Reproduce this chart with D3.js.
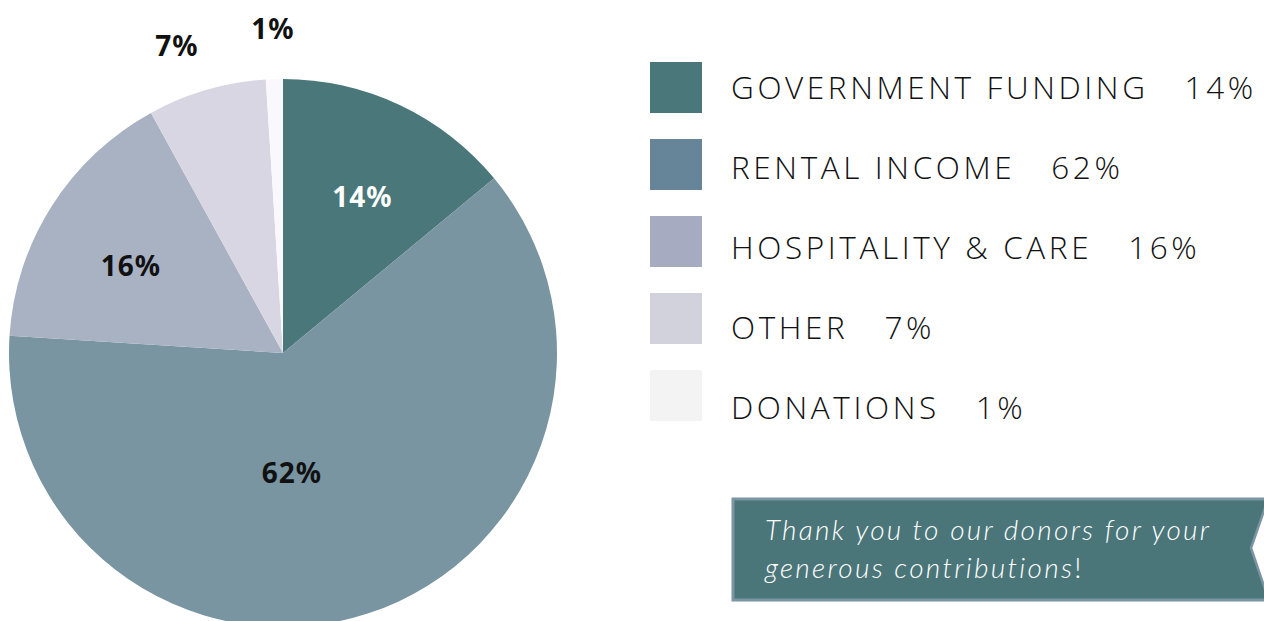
<!DOCTYPE html>
<html>
<head>
<meta charset="utf-8">
<script src="https://cdn.jsdelivr.net/npm/d3@7"></script>
<style>
  html, body { margin: 0; padding: 0; background: #fff; }
  svg { display: block; }
</style>
</head>
<body>
<svg id="chart" width="1264" height="621"></svg>
<script>
// data
const categories = ["GOVERNMENT FUNDING", "RENTAL INCOME", "HOSPITALITY & CARE", "OTHER", "DONATIONS"];
const shares = [14, 62, 16, 7, 1];
const pieColors = ["#4a7779", "#7895a1", "#a9b2c3", "#d8d6e3", "#fbf8fd"];
const legendColors = ["#4a7779", "#668599", "#a6abc2", "#d2d2dc", "#f3f3f3"];
const labelColors = ["#ffffff", "#111111", "#111111", "#111111", "#111111"];
const bannerLines = ["Thank you to our donors for your", "generous contributions"];

const svg = d3.select("#chart");
const cx = 283, cy = 353, radius = 274;

const data = categories.map((c, i) => ({ name: c, value: shares[i], i }));

const pie = d3.pie().sort(null).value(d => d.value);
const arcs = pie(data);
const arc = d3.arc().innerRadius(0).outerRadius(radius);

// where a slice label sits: inside for big slices, above the rim for small ones
function labelPos(d) {
    let a = (d.startAngle + d.endAngle) / 2;
    let r;
    if (d.data.value < 10) {
        r = radius * 1.185;
        // nudge the tiny-slice labels apart
        if (d.data.value >= 5) a -= 0.05;
    } else if (d.data.value > 50) {
        r = radius * 0.44;
        a += 0.24;
    } else {
        r = radius * 0.64;
        a += d.index === 0 ? 0.03 : -0.045;
    }
    return [Math.sin(a) * r, -Math.cos(a) * r];
}

const g = svg.append("g").attr("transform", `translate(${cx},${cy})`);

g.selectAll("path")
    .data(arcs)
    .join("path")
    .attr("d", arc)
    .attr("fill", d => pieColors[d.data.i]);

g.selectAll("text")
    .data(arcs)
    .join("text")
    .attr("transform", d => `translate(${labelPos(d)})`)
    .attr("text-anchor", "middle")
    .attr("dy", "0.36em")
    .style("font-family", "'Noto Sans', sans-serif")
    .style("font-weight", 700)
    .style("font-size", "28px")
    .style("letter-spacing", "1px")
    .attr("fill", d => labelColors[d.data.i])
    .text(d => d.data.value + "%");

// legend
const legend = svg.append("g");
const rows = legend.selectAll("g")
    .data(data)
    .join("g");

rows.append("rect")
    .attr("x", 650)
    .attr("y", d => 62 + d.i * 77)
    .attr("width", 52)
    .attr("height", 51)
    .attr("fill", d => legendColors[d.i]);

const legendText = rows.append("text")
    .attr("x", 731)
    .attr("y", d => 99 + d.i * 80)
    .style("font-family", "'Open Sans', sans-serif")
    .style("font-weight", 300)
    .style("font-size", "31.5px")
    .style("letter-spacing", "3.6px")
    .attr("fill", "#111");
legendText.append("tspan").text(d => d.name);
legendText.append("tspan").attr("dx", 36).text(d => d.value + "%");

// thank-you banner with a notched ribbon end
const bx0 = 733, by0 = 499, bx1 = 1266, by1 = 600;
const banner = svg.append("g");
banner.append("path")
    .attr("d", `M${bx0},${by0} L${bx1},${by0} L${bx1},${by1} L${bx0},${by1} Z`)
    .attr("fill", "#4b7679")
    .attr("stroke", "#7b95a2")
    .attr("stroke-width", 3);
banner.append("path")
    .attr("d", `M1266,505 L1251,548 L1266,592 Z`)
    .attr("fill", "#ffffff")
    .attr("stroke", "#7b95a2")
    .attr("stroke-width", 2.5);

const bannerText = banner.append("text")
    .style("font-family", "Lato, sans-serif")
    .style("font-style", "italic")
    .style("font-weight", 300)
    .style("font-size", "28px")
    .style("letter-spacing", "2.3px")
    .attr("fill", "#ffffff");
bannerText.append("tspan").attr("x", 765).attr("y", 540).text(bannerLines[0]);
bannerText.append("tspan").attr("x", 765).attr("y", 578).text(bannerLines[1]);
bannerText.append("tspan").style("font-style", "normal").text("!");
</script>
</body>
</html>
